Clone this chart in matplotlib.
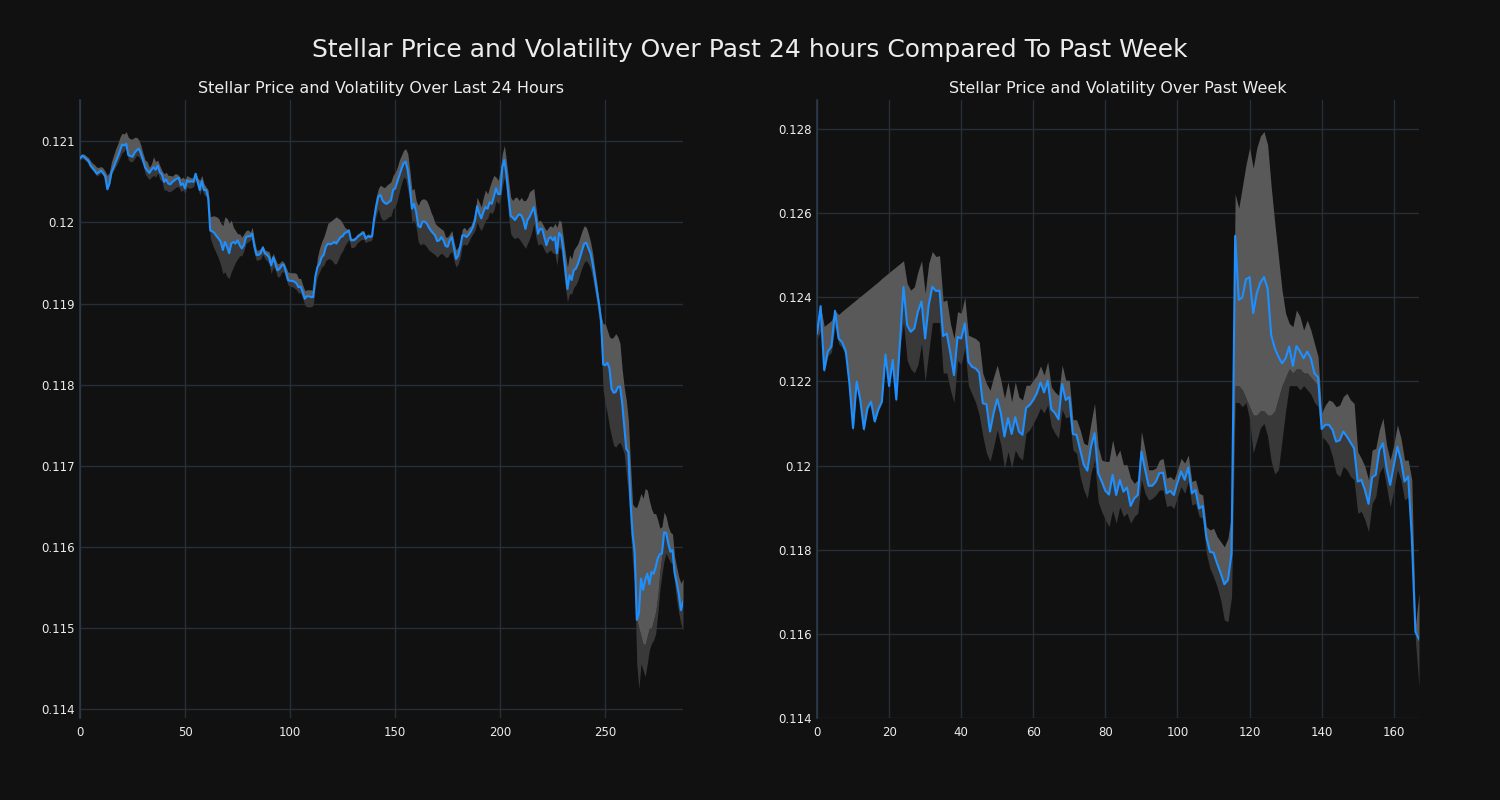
import numpy as np
import matplotlib
matplotlib.use("Agg")
import matplotlib.pyplot as plt
from matplotlib.ticker import FuncFormatter

# ---------------- data ----------------
day_price = [
    0.12079, 0.12082, 0.12081, 0.12078, 0.12076, 0.12070, 0.12067, 0.12064, 0.12060, 0.12062,
    0.12064, 0.12061, 0.12057, 0.12041, 0.12048, 0.12062, 0.12068, 0.12075, 0.12081, 0.12088,
    0.12096, 0.12095, 0.12097, 0.12083, 0.12082, 0.12081, 0.12086, 0.12089, 0.12091, 0.12085,
    0.12077, 0.12068, 0.12064, 0.12061, 0.12065, 0.12068, 0.12065, 0.12070, 0.12062, 0.12059,
    0.12050, 0.12053, 0.12048, 0.12047, 0.12050, 0.12052, 0.12054, 0.12055, 0.12046, 0.12048,
    0.12042, 0.12052, 0.12050, 0.12051, 0.12050, 0.12060, 0.12050, 0.12040, 0.12051, 0.12040,
    0.12040, 0.12031, 0.11990, 0.11989, 0.11987, 0.11983, 0.11980, 0.11976, 0.11966, 0.11976,
    0.11970, 0.11962, 0.11974, 0.11976, 0.11974, 0.11978, 0.11972, 0.11968, 0.11972, 0.11982,
    0.11983, 0.11983, 0.11986, 0.11970, 0.11960, 0.11960, 0.11962, 0.11969, 0.11962, 0.11960,
    0.11957, 0.11947, 0.11957, 0.11949, 0.11941, 0.11943, 0.11947, 0.11948, 0.11939, 0.11929,
    0.11928, 0.11928, 0.11927, 0.11925, 0.11920, 0.11921, 0.11914, 0.11906, 0.11909, 0.11909,
    0.11908, 0.11908, 0.11933, 0.11945, 0.11949, 0.11957, 0.11960, 0.11970, 0.11974, 0.11973,
    0.11974, 0.11976, 0.11974, 0.11978, 0.11982, 0.11983, 0.11987, 0.11988, 0.11990, 0.11978,
    0.11978, 0.11979, 0.11982, 0.11984, 0.11986, 0.11987, 0.11980, 0.11983, 0.11982, 0.11983,
    0.12005, 0.12020, 0.12032, 0.12034, 0.12027, 0.12024, 0.12023, 0.12025, 0.12027, 0.12040,
    0.12042, 0.12050, 0.12058, 0.12066, 0.12073, 0.12075, 0.12064, 0.12044, 0.12017, 0.12023,
    0.12013, 0.11996, 0.11994, 0.12001, 0.12001, 0.11999, 0.11994, 0.11990, 0.11987, 0.11984,
    0.11977, 0.11978, 0.11982, 0.11978, 0.11971, 0.11970, 0.11978, 0.11982, 0.11968, 0.11955,
    0.11959, 0.11970, 0.11984, 0.11984, 0.11982, 0.11985, 0.11989, 0.11994, 0.12003, 0.12020,
    0.12011, 0.12005, 0.12013, 0.12019, 0.12017, 0.12025, 0.12023, 0.12032, 0.12042, 0.12035,
    0.12035, 0.12068, 0.12077, 0.12058, 0.12031, 0.12008, 0.12006, 0.12003, 0.12007, 0.12010,
    0.12009, 0.12003, 0.11992, 0.12003, 0.12007, 0.12013, 0.12019, 0.12005, 0.11986, 0.11992,
    0.11992, 0.11982, 0.11972, 0.11980, 0.11982, 0.11978, 0.11982, 0.11962, 0.11987, 0.11984,
    0.11966, 0.11941, 0.11918, 0.11935, 0.11929, 0.11941, 0.11943, 0.11949, 0.11957, 0.11966,
    0.11974, 0.11975, 0.11968, 0.11962, 0.11949, 0.11933, 0.11916, 0.11900, 0.11879, 0.11825,
    0.11824, 0.11827, 0.11820, 0.11795, 0.11790, 0.11791, 0.11797, 0.11798, 0.11779, 0.11750,
    0.11721, 0.11717, 0.11657, 0.11616, 0.11594, 0.11510, 0.11518, 0.11561, 0.11547, 0.11559,
    0.11567, 0.11554, 0.11569, 0.11567, 0.11575, 0.11586, 0.11591, 0.11592, 0.11618, 0.11617,
    0.11604, 0.11594, 0.11596, 0.11568, 0.11556, 0.11542, 0.11522, 0.11532,
]

day_band_hi = [
    0.12082, 0.12085, 0.12084, 0.12082, 0.12080, 0.12076, 0.12073, 0.12071, 0.12068, 0.12068,
    0.12069, 0.12067, 0.12063, 0.12058, 0.12062, 0.12075, 0.12083, 0.12091, 0.12097, 0.12105,
    0.12110, 0.12109, 0.12112, 0.12105, 0.12103, 0.12103, 0.12105, 0.12105, 0.12102, 0.12095,
    0.12085, 0.12077, 0.12075, 0.12068, 0.12072, 0.12081, 0.12075, 0.12077, 0.12070, 0.12064,
    0.12060, 0.12062, 0.12058, 0.12058, 0.12057, 0.12060, 0.12060, 0.12058, 0.12054, 0.12056,
    0.12053, 0.12058, 0.12056, 0.12055, 0.12055, 0.12062, 0.12055, 0.12052, 0.12058, 0.12048,
    0.12044, 0.12040, 0.12007, 0.12008, 0.12008, 0.12007, 0.12005, 0.11999, 0.11996, 0.12007,
    0.12005, 0.11999, 0.12003, 0.11994, 0.11990, 0.11986, 0.11986, 0.11982, 0.11986, 0.11990,
    0.11991, 0.11988, 0.11994, 0.11978, 0.11966, 0.11966, 0.11968, 0.11972, 0.11966, 0.11965,
    0.11964, 0.11955, 0.11962, 0.11955, 0.11949, 0.11950, 0.11953, 0.11951, 0.11945, 0.11939,
    0.11938, 0.11938, 0.11938, 0.11937, 0.11931, 0.11931, 0.11923, 0.11916, 0.11917, 0.11917,
    0.11917, 0.11916, 0.11935, 0.11957, 0.11968, 0.11976, 0.11982, 0.11990, 0.11999, 0.12001,
    0.12003, 0.12005, 0.12007, 0.12005, 0.12003, 0.11999, 0.11994, 0.11992, 0.11992, 0.11980,
    0.11981, 0.11982, 0.11986, 0.11987, 0.11990, 0.11990, 0.11982, 0.11986, 0.11985, 0.11986,
    0.12017, 0.12032, 0.12042, 0.12046, 0.12044, 0.12043, 0.12046, 0.12048, 0.12050, 0.12058,
    0.12062, 0.12068, 0.12077, 0.12083, 0.12089, 0.12091, 0.12085, 0.12064, 0.12040, 0.12042,
    0.12027, 0.12021, 0.12027, 0.12029, 0.12029, 0.12027, 0.12021, 0.12013, 0.12007, 0.11999,
    0.11996, 0.11994, 0.11992, 0.11990, 0.11982, 0.11982, 0.11986, 0.11990, 0.11976, 0.11966,
    0.11970, 0.11978, 0.11992, 0.11994, 0.11990, 0.11994, 0.11996, 0.12003, 0.12013, 0.12031,
    0.12025, 0.12019, 0.12031, 0.12040, 0.12035, 0.12044, 0.12052, 0.12058, 0.12056, 0.12052,
    0.12064, 0.12085, 0.12095, 0.12075, 0.12052, 0.12031, 0.12027, 0.12031, 0.12031, 0.12027,
    0.12031, 0.12027, 0.12027, 0.12031, 0.12038, 0.12040, 0.12042, 0.12019, 0.12001, 0.12003,
    0.11999, 0.11994, 0.11990, 0.11994, 0.11996, 0.11994, 0.11999, 0.11994, 0.12003, 0.12001,
    0.11982, 0.11962, 0.11945, 0.11960, 0.11955, 0.11966, 0.11970, 0.11974, 0.11982, 0.11990,
    0.11996, 0.11994, 0.11986, 0.11976, 0.11962, 0.11943, 0.11925, 0.11904, 0.11885, 0.11875,
    0.11875, 0.11867, 0.11859, 0.11857, 0.11859, 0.11863, 0.11859, 0.11851, 0.11820, 0.11797,
    0.11781, 0.11756, 0.11703, 0.11653, 0.11649, 0.11649, 0.11657, 0.11666, 0.11660, 0.11672,
    0.11670, 0.11657, 0.11647, 0.11641, 0.11641, 0.11633, 0.11623, 0.11625, 0.11643, 0.11637,
    0.11625, 0.11618, 0.11616, 0.11588, 0.11575, 0.11563, 0.11555, 0.11561,
]

day_band_lo = [
    0.12077, 0.12079, 0.12078, 0.12075, 0.12073, 0.12067, 0.12064, 0.12061, 0.12057, 0.12059,
    0.12061, 0.12058, 0.12054, 0.12039, 0.12045, 0.12059, 0.12064, 0.12069, 0.12074, 0.12080,
    0.12086, 0.12088, 0.12093, 0.12077, 0.12075, 0.12075, 0.12079, 0.12083, 0.12081, 0.12077,
    0.12071, 0.12060, 0.12056, 0.12053, 0.12056, 0.12058, 0.12056, 0.12061, 0.12053, 0.12051,
    0.12040, 0.12040, 0.12038, 0.12038, 0.12040, 0.12042, 0.12044, 0.12044, 0.12038, 0.12040,
    0.12036, 0.12044, 0.12042, 0.12043, 0.12044, 0.12052, 0.12044, 0.12034, 0.12042, 0.12034,
    0.12032, 0.12025, 0.11981, 0.11973, 0.11967, 0.11961, 0.11955, 0.11947, 0.11937, 0.11939,
    0.11933, 0.11931, 0.11939, 0.11945, 0.11951, 0.11955, 0.11959, 0.11959, 0.11965, 0.11974,
    0.11976, 0.11978, 0.11980, 0.11962, 0.11953, 0.11954, 0.11955, 0.11961, 0.11955, 0.11953,
    0.11949, 0.11937, 0.11945, 0.11941, 0.11933, 0.11933, 0.11939, 0.11939, 0.11931, 0.11923,
    0.11921, 0.11921, 0.11919, 0.11917, 0.11913, 0.11913, 0.11906, 0.11898, 0.11896, 0.11896,
    0.11896, 0.11898, 0.11921, 0.11933, 0.11939, 0.11945, 0.11947, 0.11953, 0.11955, 0.11955,
    0.11953, 0.11949, 0.11949, 0.11955, 0.11961, 0.11965, 0.11971, 0.11975, 0.11979, 0.11969,
    0.11969, 0.11971, 0.11975, 0.11977, 0.11979, 0.11979, 0.11975, 0.11977, 0.11977, 0.11979,
    0.11997, 0.12009, 0.12017, 0.12007, 0.12003, 0.12003, 0.12005, 0.12007, 0.12008, 0.12017,
    0.12019, 0.12027, 0.12038, 0.12048, 0.12056, 0.12054, 0.12040, 0.12027, 0.11999, 0.12003,
    0.11994, 0.11976, 0.11972, 0.11974, 0.11973, 0.11970, 0.11966, 0.11964, 0.11962, 0.11960,
    0.11957, 0.11960, 0.11962, 0.11960, 0.11957, 0.11957, 0.11962, 0.11964, 0.11953, 0.11945,
    0.11949, 0.11957, 0.11972, 0.11973, 0.11972, 0.11976, 0.11982, 0.11986, 0.11990, 0.12001,
    0.11994, 0.11990, 0.11996, 0.12003, 0.12005, 0.12013, 0.12011, 0.12015, 0.12027, 0.12023,
    0.12027, 0.12044, 0.12056, 0.12040, 0.12007, 0.11986, 0.11982, 0.11980, 0.11982, 0.11980,
    0.11976, 0.11972, 0.11968, 0.11974, 0.11980, 0.11988, 0.11999, 0.11982, 0.11972, 0.11974,
    0.11972, 0.11966, 0.11962, 0.11964, 0.11966, 0.11962, 0.11962, 0.11947, 0.11970, 0.11966,
    0.11945, 0.11920, 0.11902, 0.11912, 0.11912, 0.11920, 0.11923, 0.11929, 0.11937, 0.11945,
    0.11951, 0.11953, 0.11949, 0.11943, 0.11931, 0.11916, 0.11900, 0.11881, 0.11851, 0.11793,
    0.11777, 0.11764, 0.11748, 0.11736, 0.11725, 0.11723, 0.11727, 0.11729, 0.11723, 0.11715,
    0.11690, 0.11665, 0.11620, 0.11580, 0.11555, 0.11456, 0.11425, 0.11456, 0.11448, 0.11440,
    0.11456, 0.11473, 0.11481, 0.11485, 0.11493, 0.11518, 0.11547, 0.11567, 0.11583, 0.11592,
    0.11586, 0.11581, 0.11579, 0.11555, 0.11534, 0.11518, 0.11505, 0.11497,
]

# lower edge of the lighter part of the band during the late sell-off (5-min steps 262-277)
day_light_start = 262
day_light_floor = [
    0.1164, 0.1160, 0.1157, 0.1151, 0.1150, 0.1149, 0.1148, 0.1148, 0.1149, 0.1150,
    0.1150, 0.1151, 0.1152, 0.1154, 0.1157, 0.1159,
]

week_price = [
    0.12314, 0.12379, 0.12227, 0.12271, 0.12283, 0.12368, 0.12302, 0.12293, 0.12271, 0.12195,
    0.12089, 0.12200, 0.12156, 0.12087, 0.12137, 0.12152, 0.12105, 0.12133, 0.12152, 0.12264,
    0.12189, 0.12251, 0.12157, 0.12290, 0.12425, 0.12334, 0.12318, 0.12326, 0.12366, 0.12390,
    0.12302, 0.12382, 0.12425, 0.12415, 0.12416, 0.12308, 0.12314, 0.12267, 0.12215, 0.12306,
    0.12302, 0.12338, 0.12247, 0.12235, 0.12231, 0.12221, 0.12148, 0.12146, 0.12081, 0.12125,
    0.12158, 0.12125, 0.12069, 0.12113, 0.12075, 0.12115, 0.12081, 0.12073, 0.12137, 0.12144,
    0.12156, 0.12172, 0.12198, 0.12174, 0.12202, 0.12134, 0.12125, 0.12110, 0.12194, 0.12156,
    0.12163, 0.12075, 0.12073, 0.12037, 0.12002, 0.11988, 0.12045, 0.12077, 0.11982, 0.11962,
    0.11940, 0.11931, 0.11978, 0.11930, 0.11966, 0.11938, 0.11948, 0.11904, 0.11922, 0.11930,
    0.12033, 0.11991, 0.11952, 0.11952, 0.11962, 0.11982, 0.11983, 0.11934, 0.11940, 0.11930,
    0.11960, 0.11986, 0.11966, 0.11996, 0.11934, 0.11942, 0.11898, 0.11904, 0.11831, 0.11795,
    0.11793, 0.11767, 0.11744, 0.11718, 0.11728, 0.11791, 0.12546, 0.12394, 0.12400, 0.12443,
    0.12448, 0.12362, 0.12410, 0.12435, 0.12448, 0.12421, 0.12310, 0.12279, 0.12259, 0.12243,
    0.12255, 0.12283, 0.12237, 0.12284, 0.12271, 0.12255, 0.12271, 0.12255, 0.12219, 0.12210,
    0.12087, 0.12097, 0.12097, 0.12085, 0.12057, 0.12060, 0.12081, 0.12069, 0.12055, 0.12041,
    0.11962, 0.11966, 0.11942, 0.11909, 0.11972, 0.11978, 0.12037, 0.12053, 0.11994, 0.11954,
    0.11999, 0.12045, 0.12013, 0.11962, 0.11974, 0.11831, 0.11605, 0.11587,
]

week_band_hi = [
    0.12318, 0.12324, 0.12331, 0.12338, 0.12345, 0.12352, 0.12359, 0.12367, 0.12374, 0.12381,
    0.12388, 0.12395, 0.12402, 0.12409, 0.12416, 0.12423, 0.12430, 0.12437, 0.12445, 0.12452,
    0.12459, 0.12466, 0.12473, 0.12480, 0.12487, 0.12433, 0.12417, 0.12425, 0.12461, 0.12487,
    0.12410, 0.12481, 0.12509, 0.12497, 0.12499, 0.12390, 0.12394, 0.12338, 0.12302, 0.12366,
    0.12362, 0.12400, 0.12310, 0.12306, 0.12302, 0.12294, 0.12219, 0.12195, 0.12179, 0.12211,
    0.12239, 0.12203, 0.12160, 0.12199, 0.12152, 0.12199, 0.12163, 0.12156, 0.12191, 0.12191,
    0.12203, 0.12215, 0.12237, 0.12215, 0.12247, 0.12187, 0.12175, 0.12167, 0.12239, 0.12203,
    0.12203, 0.12109, 0.12109, 0.12085, 0.12053, 0.12049, 0.12101, 0.12148, 0.12045, 0.12013,
    0.12010, 0.12010, 0.12061, 0.12021, 0.12037, 0.12002, 0.12002, 0.11970, 0.11958, 0.11966,
    0.12081, 0.12037, 0.11990, 0.11990, 0.11994, 0.12013, 0.12017, 0.11970, 0.11974, 0.11966,
    0.11990, 0.12017, 0.12006, 0.12025, 0.11962, 0.11966, 0.11934, 0.11930, 0.11855, 0.11847,
    0.11851, 0.11831, 0.11819, 0.11807, 0.11827, 0.11886, 0.12646, 0.12612, 0.12663, 0.12715,
    0.12755, 0.12707, 0.12755, 0.12783, 0.12794, 0.12763, 0.12663, 0.12576, 0.12497, 0.12417,
    0.12362, 0.12338, 0.12330, 0.12370, 0.12354, 0.12322, 0.12346, 0.12322, 0.12290, 0.12259,
    0.12125, 0.12144, 0.12156, 0.12152, 0.12140, 0.12144, 0.12164, 0.12172, 0.12156, 0.12148,
    0.12033, 0.12017, 0.11998, 0.11966, 0.12037, 0.12041, 0.12085, 0.12113, 0.12049, 0.12013,
    0.12049, 0.12097, 0.12065, 0.12013, 0.12013, 0.11966, 0.11620, 0.11696,
]

week_band_lo = [
    0.12300, 0.12320, 0.12220, 0.12260, 0.12270, 0.12330, 0.12290, 0.12280, 0.12260, 0.12190,
    0.12080, 0.12190, 0.12150, 0.12080, 0.12130, 0.12150, 0.12100, 0.12130, 0.12150, 0.12260,
    0.12180, 0.12250, 0.12150, 0.12280, 0.12340, 0.12250, 0.12230, 0.12220, 0.12240, 0.12290,
    0.12200, 0.12270, 0.12340, 0.12340, 0.12340, 0.12220, 0.12220, 0.12180, 0.12150, 0.12250,
    0.12240, 0.12280, 0.12190, 0.12170, 0.12150, 0.12120, 0.12070, 0.12030, 0.12010, 0.12045,
    0.12085, 0.12049, 0.11994, 0.12033, 0.11994, 0.12037, 0.12021, 0.12013, 0.12077, 0.12085,
    0.12101, 0.12117, 0.12137, 0.12125, 0.12144, 0.12093, 0.12077, 0.12065, 0.12133, 0.12113,
    0.12117, 0.12037, 0.12029, 0.11974, 0.11942, 0.11922, 0.11982, 0.12013, 0.11914, 0.11890,
    0.11871, 0.11855, 0.11894, 0.11863, 0.11902, 0.11879, 0.11887, 0.11863, 0.11879, 0.11887,
    0.11966, 0.11934, 0.11918, 0.11922, 0.11930, 0.11942, 0.11942, 0.11902, 0.11906, 0.11898,
    0.11926, 0.11950, 0.11934, 0.11962, 0.11906, 0.11910, 0.11879, 0.11875, 0.11791, 0.11756,
    0.11736, 0.11712, 0.11680, 0.11633, 0.11629, 0.11688, 0.12150, 0.12150, 0.12140, 0.12150,
    0.12110, 0.12030, 0.12060, 0.12090, 0.12100, 0.12070, 0.12010, 0.11980, 0.11990, 0.12060,
    0.12130, 0.12190, 0.12190, 0.12190, 0.12180, 0.12190, 0.12180, 0.12170, 0.12150, 0.12140,
    0.12069, 0.12061, 0.12049, 0.12021, 0.11982, 0.11974, 0.11998, 0.11990, 0.11974, 0.11966,
    0.11887, 0.11891, 0.11871, 0.11843, 0.11910, 0.11926, 0.11982, 0.11998, 0.11950, 0.11902,
    0.11942, 0.11990, 0.11966, 0.11918, 0.11926, 0.11823, 0.11585, 0.11474,
]

# lower edge of the lighter part of the band during the spike (hours 116-139)
week_light_start = 116
week_light_floor = [
    0.1219, 0.1219, 0.1218, 0.1216, 0.1214, 0.1212, 0.1212, 0.1213, 0.1213, 0.1212,
    0.1212, 0.1213, 0.1216, 0.1219, 0.1221, 0.1223, 0.1222, 0.1223, 0.1223, 0.1222,
    0.1222, 0.1221, 0.1220, 0.1219,
]

day_xticks = [0, 50, 100, 150, 200, 250]
week_xticks = [0, 20, 40, 60, 80, 100, 120, 140, 160]
day_yticks = [0.114, 0.115, 0.116, 0.117, 0.118, 0.119, 0.120, 0.121]
week_yticks = [0.114, 0.116, 0.118, 0.120, 0.122, 0.124, 0.126, 0.128]

suptitle = "Stellar Price and Volatility Over Past 24 hours Compared To Past Week"
day_title = "Stellar Price and Volatility Over Last 24 Hours"
week_title = "Stellar Price and Volatility Over Past Week"

# ---------------- style ----------------
BG = "#111111"
LIGHT = "#595959"
DARK = "#393939"
LINE = "#1e8fff"
GRID = "#262e37"
SPINE = "#2c3b4c"
TEXT = "#ececec"

plt.rcParams["font.family"] = ["DejaVu Sans"]

fig = plt.figure(figsize=(15, 8), dpi=100, facecolor=BG)
ax1 = fig.add_axes([80 / 1500, 82 / 800, 603 / 1500, 618 / 800])
ax2 = fig.add_axes([817 / 1500, 82 / 800, 602 / 1500, 618 / 800])


def draw(ax, price, hi, lo, mid, title, xticks, yticks, xlim, ylim):
    price = np.asarray(price)
    hi = np.asarray(hi)
    lo = np.asarray(lo)
    mid = np.asarray(mid)
    x = np.arange(len(price))
    ax.set_facecolor(BG)
    ax.fill_between(x, lo, mid, color=DARK, lw=0, zorder=2)
    ax.fill_between(x, mid, np.maximum(hi, mid), color=LIGHT, lw=0, zorder=2)
    ax.plot(x, price, color=LINE, lw=1.5, zorder=3)
    ax.set_xlim(*xlim)
    ax.set_ylim(*ylim)
    ax.set_xticks(xticks)
    ax.set_yticks(yticks)
    ax.yaxis.set_major_formatter(FuncFormatter(lambda v, p: "%g" % round(v, 6)))
    ax.grid(True, color=GRID, lw=1.0, zorder=0)
    ax.set_axisbelow(True)
    for s in ["top", "right", "bottom"]:
        ax.spines[s].set_visible(False)
    ax.spines["left"].set_color(SPINE)
    ax.spines["left"].set_linewidth(1.2)
    ax.tick_params(axis="both", length=0, colors=TEXT, labelsize=8.5)
    ax.tick_params(axis="x", pad=6)
    ax.tick_params(axis="y", pad=4)
    ax.set_title(title, color=TEXT, fontsize=11.5, pad=5)


day_mid = list(day_price)
for k, v in enumerate(day_light_floor):
    day_mid[day_light_start + k] = v
draw(ax1, day_price, day_band_hi, day_band_lo, day_mid, day_title,
     day_xticks, day_yticks, (0, len(day_price) - 1), (0.11389, 0.12151))

week_mid = list(week_price)
for k, v in enumerate(week_light_floor):
    week_mid[week_light_start + k] = v
draw(ax2, week_price, week_band_hi, week_band_lo, week_mid, week_title,
     week_xticks, week_yticks, (0, len(week_price) - 1), (0.11400, 0.12869))

fig.text(0.5, 1 - 50 / 800, suptitle, ha="center", va="center", color=TEXT, fontsize=18)

fig.savefig("out.png", dpi=100, facecolor=BG)
